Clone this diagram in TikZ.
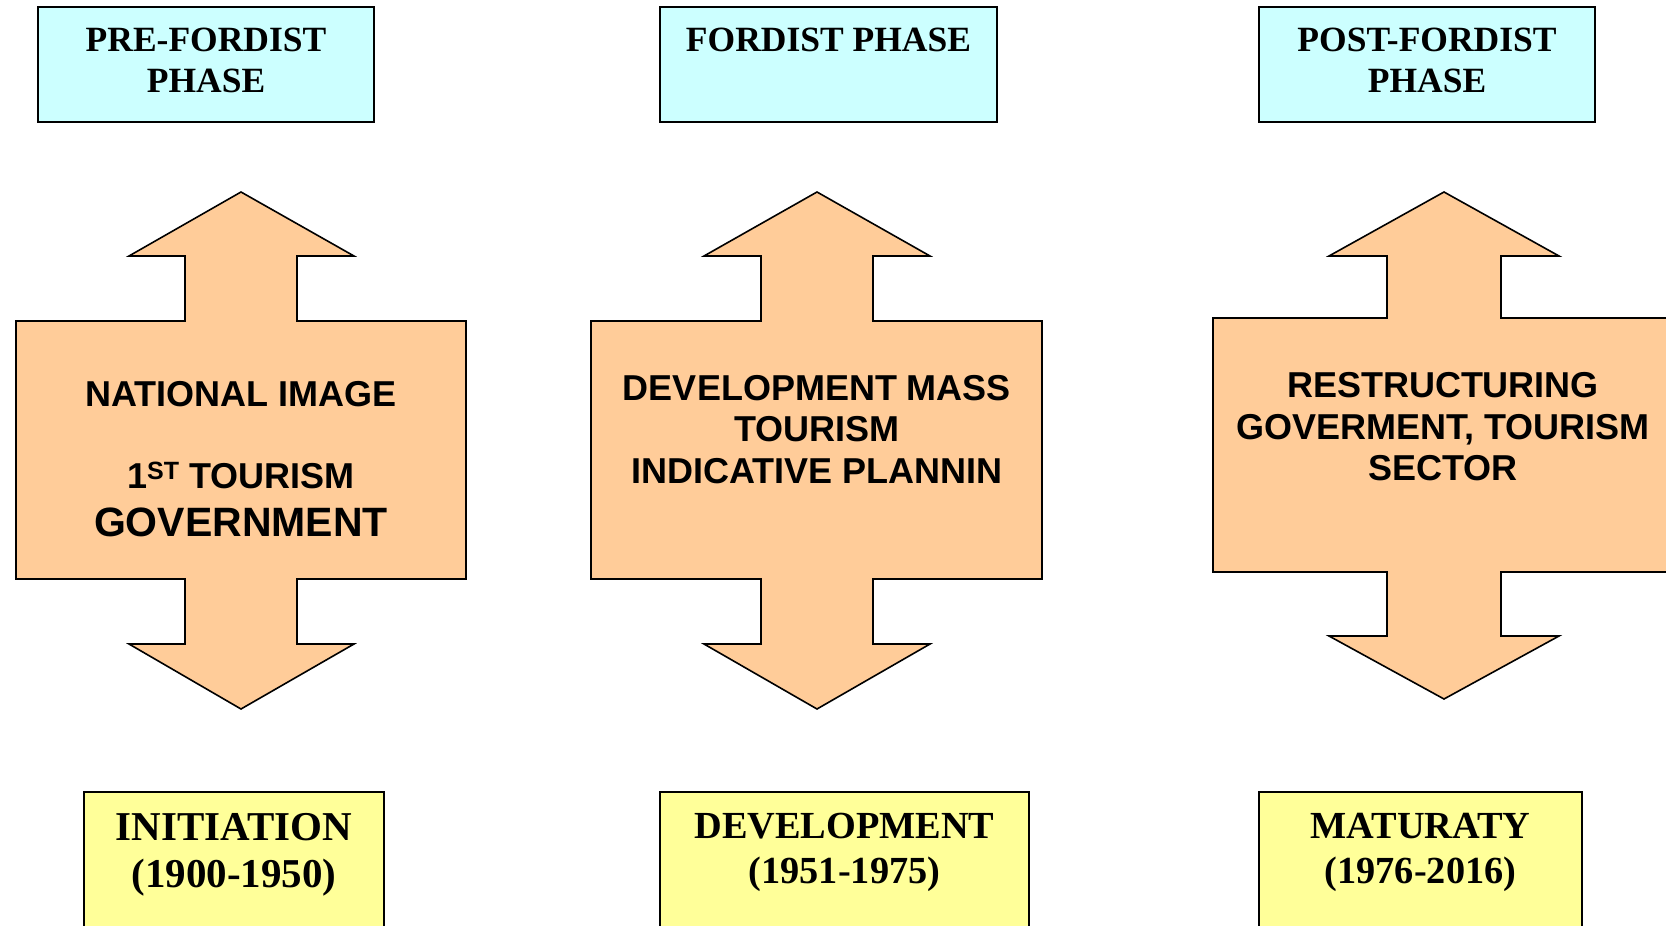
\documentclass[tikz,border=0pt]{standalone}
\usepackage{fontspec}
\setmainfont{Liberation Serif}
\newfontfamily\arialfont{Liberation Sans}
\definecolor{phasecyan}{HTML}{CCFFFF}
\definecolor{peach}{HTML}{FFCC99}
\definecolor{stageyellow}{HTML}{FFFF99}
\begin{document}
\begin{tikzpicture}[x=1pt,y=-1pt,
  phasebox/.style={draw=black,line width=1.6pt,fill=phasecyan},
  stagebox/.style={draw=black,line width=1.6pt,fill=stageyellow},
  bigarrow/.style={draw=black,line width=1.6pt,fill=peach,line join=miter},
  phasetext/.style={align=center,inner sep=0pt,font=\bfseries\fontsize{35.5}{41}\selectfont},
  stagetextA/.style={align=center,inner sep=0pt,font=\bfseries\fontsize{41}{47}\selectfont},
  stagetextB/.style={align=center,inner sep=0pt,font=\bfseries\fontsize{38.3}{45}\selectfont},
  arrowtext/.style={align=center,inner sep=0pt,font=\arialfont\bfseries\fontsize{36}{41.5}\selectfont},
  arrowtextbig/.style={align=center,inner sep=0pt,font=\arialfont\bfseries\fontsize{41}{47}\selectfont}]
\useasboundingbox (0,0) rectangle (1666,926);
\clip (0,0) rectangle (1666,926);
\fill[white] (0,0) rectangle (1666,926);

% top phase boxes
\draw[phasebox] (38,7) rectangle (374,122);
\node[phasetext] (p1) at (206,60.5) {PRE-FORDIST\\PHASE};
\draw[phasebox] (660,7) rectangle (997,122);
\node[phasetext] (p2) at (828.5,40) {FORDIST PHASE};
\draw[phasebox] (1259,7) rectangle (1595,122);
\node[phasetext] (p3) at (1427,60.5) {POST-FORDIST\\PHASE};

% double arrows
\draw[bigarrow] (241,192) -- (354,256) -- (297,256) -- (297,321) -- (466,321) -- (466,579)
  -- (297,579) -- (297,644) -- (354,644) -- (241,709) -- (129,644) -- (185,644) -- (185,579)
  -- (16,579) -- (16,321) -- (185,321) -- (185,256) -- (129,256) -- cycle;
\node[arrowtext] (a1a) at (241,394) {NATIONAL IMAGE};
\node[arrowtext] (a1b) at (241,475) {1\textsuperscript{\fontsize{25}{25}\selectfont ST} TOURISM};
\node[arrowtextbig] (a1c) at (241,522) {GOVERNMENT};

\draw[bigarrow] (817,192) -- (930,256) -- (873,256) -- (873,321) -- (1042,321) -- (1042,579)
  -- (873,579) -- (873,644) -- (930,644) -- (817,709) -- (704,644) -- (761,644) -- (761,579)
  -- (591,579) -- (591,321) -- (761,321) -- (761,256) -- (704,256) -- cycle;
\node[arrowtext] (a2) at (817,429.5) {DEVELOPMENT MASS\\TOURISM\\INDICATIVE PLANNIN};

\draw[bigarrow] (1444,192) -- (1559,256) -- (1501,256) -- (1501,318) -- (1690,318) -- (1690,572)
  -- (1501,572) -- (1501,636) -- (1559,636) -- (1444,699) -- (1329,636) -- (1387,636) -- (1387,572)
  -- (1213,572) -- (1213,318) -- (1387,318) -- (1387,256) -- (1329,256) -- cycle;
\node[arrowtext] (a3) at (1443,427) {RESTRUCTURING\\GOVERMENT, TOURISM\\SECTOR};

% bottom stage boxes
\draw[stagebox] (84,792) rectangle (384,950);
\node[stagetextA] (s1) at (234,854.5) {INITIATION\\(1900-1950)};
\draw[stagebox] (660,792) rectangle (1029,950);
\node[stagetextB] (s2) at (844.5,852) {DEVELOPMENT\\(1951-1975)};
\draw[stagebox] (1259,792) rectangle (1582,950);
\node[stagetextB] (s3) at (1420.5,852) {MATURATY\\(1976-2016)};
\end{tikzpicture}
\end{document}
